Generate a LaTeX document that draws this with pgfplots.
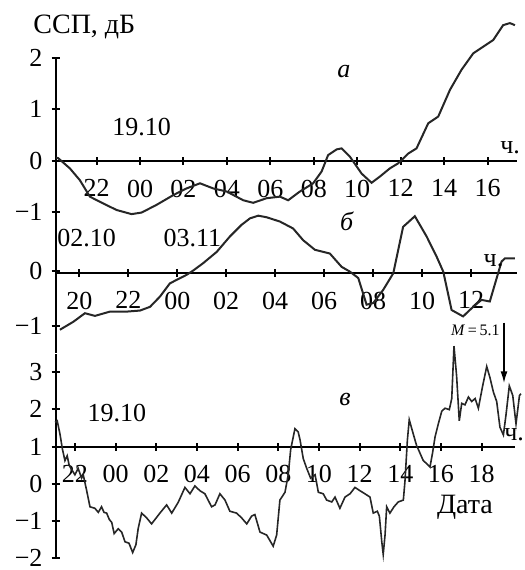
\documentclass[border=0pt]{standalone}
\usepackage{fontspec}
\setmainfont{Liberation Serif}
\usepackage{pgfplots}
\pgfplotsset{compat=1.18}
\usetikzlibrary{arrows.meta}
\pgfplotsset{
  base/.style={scale only axis, enlargelimits=false, clip=false,
    tick style={black, line width=1pt},
    tick align=inside,
    minor tick num=0,
    /pgf/number format/assume math mode=true,
    tick label style={font=\fontsize{13}{15}\selectfont},
    anchor=south west},
  noarrows/.style={axis line style={-, line width=1pt},
    every outer x axis line/.append style={-},
    every outer y axis line/.append style={-},
    every inner x axis line/.append style={-},
    every inner y axis line/.append style={-},
    x axis line style={-}, y axis line style={-}},
  xpanel/.style={base, axis x line=bottom, axis y line=none, major tick length=4pt,
    ytick=\empty, xticklabel style={yshift=-4pt}, noarrows},
  ypanel/.style={base, axis y line=left, axis x line=none, major tick length=4.5pt,
    xtick=\empty, width=1pt, xmin=0, xmax=1, yticklabel style={xshift=-1pt}, noarrows},
  curve/.style={black!85, line width=1pt, no marks},
}
\begin{document}
\begin{tikzpicture}
\useasboundingbox (0,0) rectangle (262.5pt,-285pt);
% ---------- panel a ----------
\begin{axis}[ypanel, at={(28pt,-111.16pt)}, height=82.16pt, ymin=-1.2, ymax=2,
  ytick={-1,0,1,2}, yticklabels={−1,0,1,2}]
\end{axis}
\begin{axis}[xpanel, at={(28pt,-80.35pt)}, width=230.65pt, height=51.35pt,
  xmin=20.13, xmax=41.37, ymin=0, ymax=2,
  xtick={22,24,26,28,30,32,34,36,38,40},
  xticklabels={22,00,02,04,06,08,10,12,14,16}]
\addplot[curve] coordinates {
(20.13,0.06)(20.23,0.05)(20.77,-0.15)(21.23,-0.38)(21.69,-0.70)(22.15,-0.80)
(22.92,-0.96)(23.61,-1.04)(24.07,-1.01)(24.76,-0.86)(25.53,-0.67)(26.14,-0.54)
(26.76,-0.44)(27.37,-0.54)(27.99,-0.60)(28.75,-0.77)(29.21,-0.82)(29.83,-0.73)
(30.44,-0.70)(30.82,-0.77)(31.36,-0.60)(31.97,-0.44)(32.36,-0.21)(32.66,0.11)
(33.05,0.22)(33.28,0.24)(33.66,0.08)(34.20,-0.25)(34.66,-0.43)(35.04,-0.31)
(35.50,-0.15)(35.89,-0.05)(36.35,0.14)(36.73,0.24)(37.27,0.73)(37.73,0.86)
(38.27,1.38)(38.80,1.77)(39.34,2.09)(39.80,2.22)(40.26,2.35)(40.72,2.64)
(41.03,2.68)(41.26,2.64)};
\end{axis}
% ---------- panel b ----------
\begin{axis}[ypanel, at={(28pt,-176.33pt)}, height=73.29pt, ymin=-1.5, ymax=1.2,
  ytick={-1,0}, yticklabels={−1,0}]
\end{axis}
\begin{axis}[xpanel, at={(28pt,-136.35pt)}, width=230.5pt, height=31.98pt,
  xmin=19.05, xmax=37.87, ymin=0, ymax=1.2,
  xtick={20,22,24,26,28,30,32,34,36},
  xticklabels={20,22,00,02,04,06,08,10,12}]
\addplot[curve] coordinates {
(19.21,-1.07)(19.76,-0.92)(20.23,-0.76)(20.64,-0.81)(21.25,-0.73)(21.93,-0.73)
(22.48,-0.71)(22.89,-0.64)(23.29,-0.45)(23.70,-0.20)(23.91,-0.15)(24.38,-0.04)
(24.65,0.04)(25.06,0.18)(25.61,0.39)(26.15,0.68)(26.63,0.90)(26.97,1.02)
(27.31,1.07)(27.65,1.04)(28.19,0.96)(28.73,0.83)(29.14,0.61)(29.62,0.43)
(30.23,0.36)(30.71,0.11)(31.05,0.02)(31.39,-0.10)(31.73,-0.60)(32.00,-0.57)
(32.41,-0.32)(32.82,-0.01)(33.22,0.86)(33.70,1.06)(34.18,0.68)(34.59,0.30)
(34.86,0.02)(35.20,-0.70)(35.67,-0.82)(36.08,-0.64)(36.42,-0.51)(36.76,-0.54)
(37.24,0.21)(37.38,0.27)(37.78,0.27)};
\end{axis}
% ---------- panel v ----------
\begin{axis}[ypanel, at={(28pt,-279.05pt)}, height=102.3pt, ymin=-2, ymax=3.5,
  ytick={-2,-1,0,1,2,3}, yticklabels={−2,−1,0,1,2,3}]
\end{axis}
\begin{axis}[xpanel, at={(28pt,-223.25pt)}, width=229.5pt, height=46.5pt,
  xmin=21.07, xmax=43.64, ymin=1, ymax=3.5,
  xtick={22,24,26,28,30,32,34,36,38,40,42},
  xticklabels={22,00,02,04,06,08,10,12,14,16,18}]
\addplot[curve, line width=0.8pt] coordinates {
(21.02,1.65)(21.13,1.69)(21.26,1.35)(21.39,0.92)(21.51,0.62)(21.62,0.75)
(21.72,0.49)(22.00,0.24)(22.16,0.41)(22.33,0.15)(22.41,0.24)(22.58,-0.19)
(22.74,-0.62)(22.98,-0.66)(23.15,-0.77)(23.31,-0.62)(23.43,-0.77)(23.56,-0.79)
(23.69,-0.96)(23.81,-1.04)(23.93,-1.34)(24.13,-1.21)(24.30,-1.30)(24.46,-1.56)
(24.66,-1.60)(24.84,-1.85)(25.00,-1.64)(25.11,-1.21)(25.28,-0.79)(25.53,-0.92)
(25.77,-1.08)(26.18,-0.79)(26.51,-0.57)(26.76,-0.79)(27.08,-0.50)(27.41,-0.10)
(27.66,-0.27)(27.90,-0.06)(28.15,-0.19)(28.39,-0.27)(28.72,-0.62)(28.89,-0.57)
(29.13,-0.27)(29.38,-0.44)(29.62,-0.74)(29.95,-0.79)(30.20,-0.92)(30.45,-1.08)
(30.69,-0.87)(30.85,-0.83)(31.10,-1.30)(31.43,-1.38)(31.75,-1.68)(31.92,-1.38)
(32.08,-0.44)(32.33,-0.23)(32.49,0.24)(32.61,0.92)(32.82,1.48)(32.98,1.39)
(33.07,1.18)(33.23,0.67)(33.40,0.41)(33.59,0.15)(33.81,0.24)(33.97,-0.23)
(34.21,-0.27)(34.38,-0.44)(34.63,-0.49)(34.79,-0.36)(35.03,-0.66)(35.28,-0.36)
(35.53,-0.27)(35.77,-0.10)(36.02,-0.19)(36.26,-0.27)(36.51,-0.36)(36.67,-0.79)
(36.87,-0.74)(36.97,-0.87)(37.09,-1.56)(37.16,-1.90)(37.25,-1.38)(37.33,-0.62)
(37.49,-0.79)(37.69,-0.62)(37.90,-0.49)(38.15,-0.44)(38.23,0.07)(38.35,1.18)
(38.44,1.72)(38.61,1.39)(38.81,1.01)(38.89,0.92)(39.13,0.62)(39.30,0.54)
(39.46,0.45)(39.59,0.84)(39.71,1.26)(39.87,1.61)(40.04,1.95)(40.20,2.03)
(40.41,1.99)(40.53,2.29)(40.64,3.70)(40.77,2.89)(40.90,1.69)(41.02,2.16)
(41.18,2.12)(41.35,2.33)(41.51,2.21)(41.68,2.29)(41.84,2.03)(42.05,2.63)
(42.25,3.15)(42.41,2.85)(42.58,2.46)(42.74,2.21)(42.90,1.52)(43.07,1.31)
(43.20,1.86)(43.36,2.63)(43.53,2.37)(43.69,1.61)(43.86,2.37)(43.93,2.42)};
\draw[line width=0.8pt, -{Latex[length=6pt,width=3.5pt]}] (axis cs:43.10,4.33) -- (axis cs:43.10,2.70);
\end{axis}
% ---------- texts ----------
\begin{scope}[every node/.style={inner sep=0pt, font=\fontsize{13}{15}\selectfont}]
\node[anchor=base west, font=\fontsize{14}{16}\selectfont] at (16.5pt,-16.5pt) {ССП, дБ};
\node[anchor=base, font=\fontsize{13}{15}\selectfont\itshape] at (172pt,-38.5pt) {а};
\node[anchor=base] at (70.85pt,-67.5pt) {19.10};
\node[anchor=base west] at (250pt,-76.75pt) {ч.};
\node[anchor=base west] at (28.5pt,-123.35pt) {02.10};
\node[anchor=base west] at (81.65pt,-123.35pt) {03.11};
\node[anchor=base, font=\fontsize{13}{15}\selectfont\itshape] at (173.35pt,-115pt) {б};
\node[anchor=base west] at (241.65pt,-133.35pt) {ч.};
\node[anchor=base west] at (43.65pt,-210.85pt) {19.10};
\node[anchor=base, font=\fontsize{13}{15}\selectfont\itshape] at (172.5pt,-202.5pt) {в};
\node[anchor=base west] at (252pt,-220.35pt) {ч.};
\node[anchor=base west, font=\fontsize{14}{16}\selectfont] at (218.35pt,-256.65pt) {Дата};
\node[anchor=base east, font=\fontsize{8}{9}\selectfont] at (250pt,-167.5pt) {\textit{M}\,=\,5.1};
\end{scope}
\end{tikzpicture}
\end{document}
